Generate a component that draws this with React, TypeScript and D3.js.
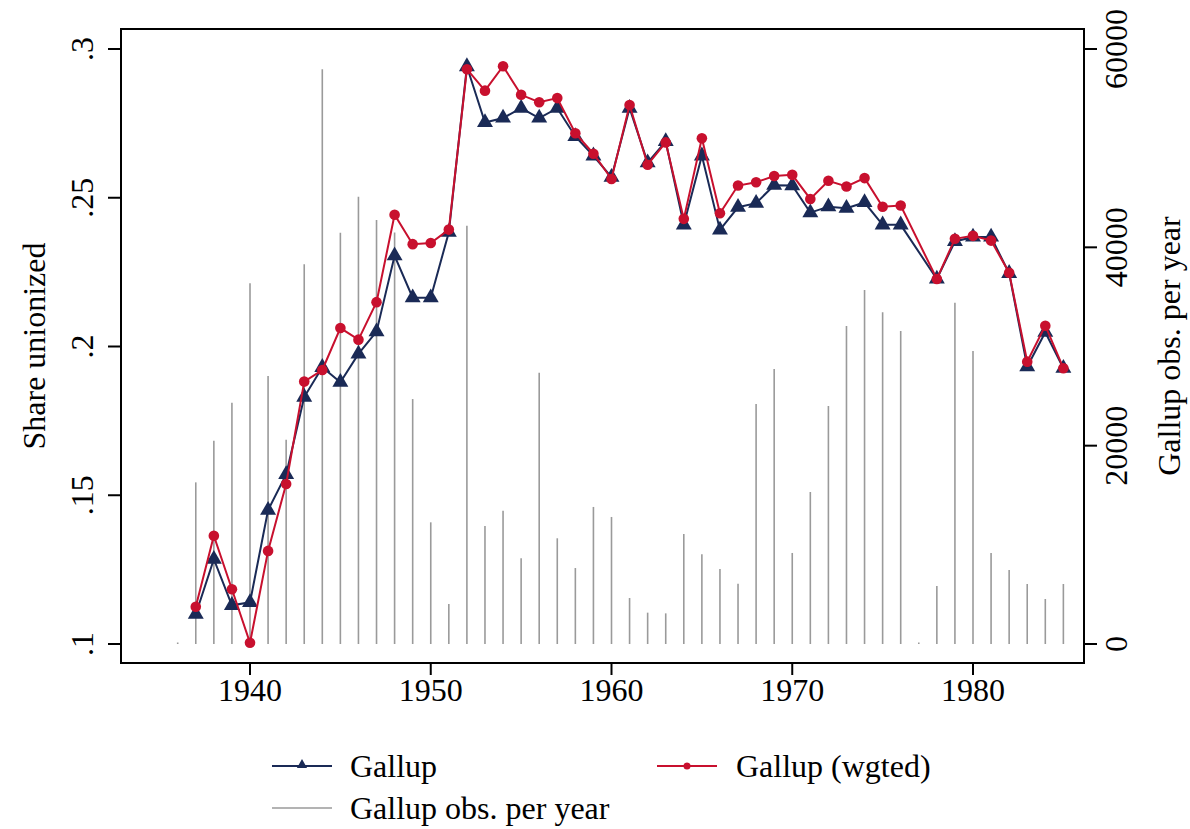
import React from "react";
import * as d3 from "d3";

const lineYears = [1937,1938,1939,1940,1941,1942,1943,1944,1945,1946,1947,1948,1949,1950,1951,1952,1953,1954,1955,1956,1957,1958,1959,1960,1961,1962,1963,1964,1965,1966,1967,1968,1969,1970,1971,1972,1973,1974,1975,1976,1978,1979,1980,1981,1982,1983,1984,1985];
const gallup = [.110,.1285,.113,.114,.145,.157,.183,.193,.188,.1975,.205,.2305,.2164,.2164,.2384,.2941,.2753,.2768,.2801,.2768,.2801,.2706,.2641,.2569,.2801,.2618,.2689,.2409,.2641,.2392,.2468,.2482,.2542,.2541,.2450,.2470,.2465,.2484,.2409,.2409,.2227,.2353,.2368,.2368,.2246,.1932,.2048,.1927];
const gallupWgted = [.1125,.1364,.1184,.1004,.1313,.1538,.1882,.1921,.2062,.2023,.2149,.2443,.2344,.2348,.2393,.2932,.2860,.2942,.2846,.2821,.2835,.2717,.2648,.2563,.2812,.2611,.2686,.2429,.2700,.2448,.2541,.2552,.2573,.2577,.2496,.2557,.2538,.2566,.2470,.2474,.2227,.2362,.2372,.2356,.2248,.1949,.2070,.1927];
const obsYears = d3.range(1936, 1986);
const obsPerYear = [150,16300,20500,24330,36370,27020,20600,38290,57950,41480,45110,42760,41500,24700,12270,4030,42180,11900,13440,8640,27360,10660,7660,13820,12810,4640,3160,3090,11090,9040,7560,6080,24200,27730,9180,15330,24000,32070,35700,33450,31560,150,5850,34400,29550,9180,7460,6050,4540,6050];
const xTicks = [1940,1950,1960,1970,1980];
const yLeftTicks = [.1,.15,.2,.25,.3];
const yLeftLabels = [".1",".15",".2",".25",".3"];
const yRightTicks = [0,20000,40000,60000];

const W = 1190, H = 829;
const box = { l: 121, r: 1084, t: 29, b: 663 };
const NAVY = "#1a2a56";
const RED = "#c8102e";
const GRAY = "#9a9a9a";
const FONT = "'Liberation Serif', 'Times New Roman', serif";
const FS = 32;

export default function App() {
  const x = d3.scaleLinear().domain([1940, 1980]).range([250, 973]);
  const yL = d3.scaleLinear().domain([0.1, 0.3]).range([644, 49]);
  const yR = d3.scaleLinear().domain([0, 60000]).range([644, 49]);

  const gData = lineYears.map((yr, i) => ({ yr, v: gallup[i] }));
  const wData = lineYears.map((yr, i) => ({ yr, v: gallupWgted[i] }));
  const line = d3.line<{ yr: number; v: number }>().x(d => x(d.yr)).y(d => yL(d.v));
  const tri = d3.symbol().type(d3.symbolTriangle).size(110)();
  const triSmall = d3.symbol().type(d3.symbolTriangle).size(45)();

  return (
    <svg width={W} height={H} style={{ position: "absolute", left: 0, top: 0, background: "#fff" }} fontFamily={FONT}>
      <rect x={0} y={0} width={W} height={H} fill="#fff" />
      {obsYears.map((yr, i) => (
        <line key={"s" + yr} x1={x(yr)} x2={x(yr)} y1={yR(0)} y2={Math.min(yR(obsPerYear[i]), yR(0) - 1.5)} stroke={GRAY} strokeWidth={1.6} />
      ))}
      <path d={line(gData) || ""} fill="none" stroke={NAVY} strokeWidth={2} />
      {gData.map(d => (
        <path key={"g" + d.yr} d={tri || ""} transform={`translate(${x(d.yr)},${yL(d.v)})`} fill={NAVY} />
      ))}
      <path d={line(wData) || ""} fill="none" stroke={RED} strokeWidth={2} />
      {wData.map(d => (
        <circle key={"w" + d.yr} cx={x(d.yr)} cy={yL(d.v)} r={5.3} fill={RED} />
      ))}
      <rect x={box.l} y={box.t} width={box.r - box.l} height={box.b - box.t} fill="none" stroke="#000" strokeWidth={2} />
      {xTicks.map(t => (
        <g key={"x" + t}>
          <line x1={x(t)} x2={x(t)} y1={box.b} y2={box.b + 12} stroke="#000" strokeWidth={2} />
          <text x={x(t)} y={701} fontSize={FS} textAnchor="middle" fill="#000">{t}</text>
        </g>
      ))}
      {yLeftTicks.map((t, i) => (
        <g key={"yl" + t}>
          <line x1={box.l - 13} x2={box.l} y1={yL(t)} y2={yL(t)} stroke="#000" strokeWidth={2} />
          <text transform={`translate(93,${yL(t)}) rotate(-90)`} fontSize={FS} textAnchor="middle" fill="#000">{yLeftLabels[i]}</text>
        </g>
      ))}
      <text transform={`translate(45,${(box.t + box.b) / 2}) rotate(-90)`} fontSize={FS} textAnchor="middle" fill="#000">Share unionized</text>
      {yRightTicks.map(t => (
        <g key={"yr" + t}>
          <line x1={box.r} x2={box.r + 13} y1={yR(t)} y2={yR(t)} stroke="#000" strokeWidth={2} />
          <text transform={`translate(1127,${yR(t)}) rotate(-90)`} fontSize={FS} textAnchor="middle" fill="#000">{t}</text>
        </g>
      ))}
      <text transform={`translate(1180,${(box.t + box.b) / 2}) rotate(-90)`} fontSize={FS} textAnchor="middle" fill="#000">Gallup obs. per year</text>
      <g>
        <line x1={272} x2={332} y1={766} y2={766} stroke={NAVY} strokeWidth={2} />
        <path d={triSmall || ""} transform="translate(302,765)" fill={NAVY} />
        <text x={350} y={777} fontSize={FS} fill="#000">Gallup</text>
        <line x1={657} x2={717} y1={766} y2={766} stroke={RED} strokeWidth={2} />
        <circle cx={687} cy={766} r={3.5} fill={RED} />
        <text x={736} y={777} fontSize={FS} fill="#000">Gallup (wgted)</text>
        <line x1={272} x2={332} y1={808} y2={808} stroke={GRAY} strokeWidth={1.6} />
        <text x={350} y={819} fontSize={FS} fill="#000">Gallup obs. per year</text>
      </g>
    </svg>
  );
}
